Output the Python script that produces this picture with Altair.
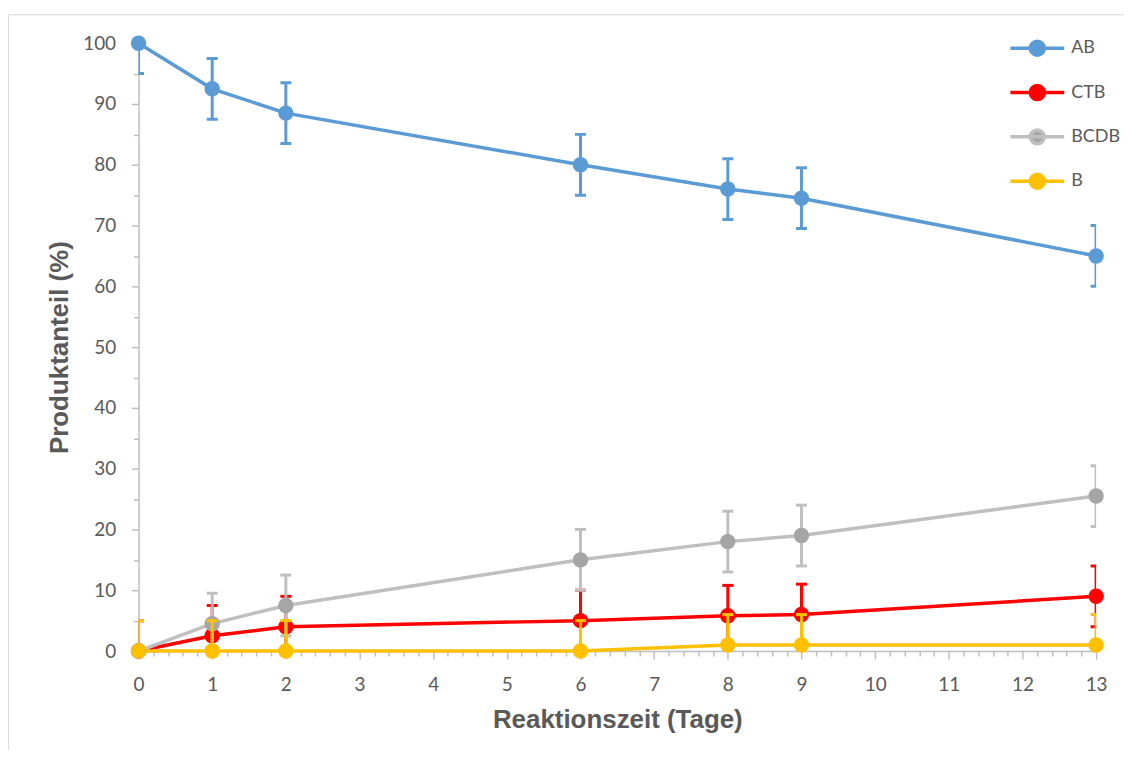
import altair as alt
import pandas as pd

# ---- data ----
days = [0, 1, 2, 6, 8, 9, 13]
series_names = ["AB", "CTB", "BCDB", "B"]
ab = [100, 92.5, 88.5, 80, 76, 74.5, 65]
ctb = [0, 2.5, 4, 5, 5.8, 6, 9]
bcdb = [0, 4.5, 7.5, 15, 18, 19, 25.5]
b = [0, 0, 0, 0, 1, 1, 1]
err_ab = [5, 5, 5, 5, 5, 5, 5]
err_ctb = [5, 5, 5, 5, 5, 5, 5]
err_bcdb = [5, 5, 5, 5, 5, 5, 5]
err_b = [5, 5, 5, 5, 5, 5, 5]

line_colors = ["#5B9BD5", "#FF0000", "#BFBFBF", "#FFC000"]
point_colors = ["#5B9BD5", "#FF0000", "#A5A5A5", "#FFC000"]

x_ticks = list(range(0, 14))
x_minor = [round(i + k * 0.2, 1) for i in range(0, 13) for k in range(1, 5)]
y_ticks = list(range(0, 101, 10))
y_minor = list(range(5, 100, 10))

values = [ab, ctb, bcdb, b]
errors = [err_ab, err_ctb, err_bcdb, err_b]
rows = []
for name, vals, errs in zip(series_names, values, errors):
    for d, v, e in zip(days, vals, errs):
        rows.append({"series": name, "day": d, "value": v, "lo": v - e, "hi": v + e})
df = pd.DataFrame(rows)

GRAY_TXT = "#595959"
AXIS_COL = "#BFBFBF"

xs = alt.Scale(domain=[0, 13], nice=False, zero=False)
ys = alt.Scale(domain=[0, 100], nice=False, zero=False)
stroke_scale = alt.Scale(domain=series_names, range=line_colors)
fill_scale = alt.Scale(domain=series_names, range=point_colors)

legend_path = "M-3.86,0L3.86,0M-1,0A1,1,0,1,0,1,0A1,1,0,1,0,-1,0Z"
leg = alt.Legend(
    title=None,
    orient="none",
    legendX=893,
    legendY=-4,
    symbolType=legend_path,
    symbolSize=196,
    symbolStrokeWidth=3.5,
    labelFont="Lato",
    labelFontSize=18,
    labelColor=GRAY_TXT,
    labelOffset=25,
    rowPadding=16.5,
    padding=0,
)

major_x = alt.Axis(
    values=x_ticks, orient="bottom", grid=False, tickSize=8, tickWidth=1.5,
    tickColor=AXIS_COL, domainColor=AXIS_COL, domainWidth=1.5,
    labelFont="Lato", labelFontSize=19, labelColor=GRAY_TXT, labelPadding=17,
    labelFlush=False, labelOverlap=False, format="d",
    title="Reaktionszeit (Tage)", titleFont="Liberation Sans", titleFontWeight="bold",
    titleFontSize=26, titleColor=GRAY_TXT, titleX=480.5, titleY=69,
    titleBaseline="middle", titleAlign="center",
)
major_y = alt.Axis(
    values=y_ticks, orient="left", grid=False, tickSize=7, tickWidth=1.5,
    tickColor=AXIS_COL, domainColor=AXIS_COL, domainWidth=1.5,
    labelFont="Lato", labelFontSize=19, labelColor=GRAY_TXT, labelPadding=16,
    labelFlush=False, labelOverlap=False, format="d",
    title="Produktanteil (%)", titleFont="Liberation Sans", titleFontWeight="bold",
    titleFontSize=26, titleColor=GRAY_TXT, titleX=-79, titleY=305,
    titleAngle=270, titleBaseline="middle", titleAlign="center",
)
minor_x = alt.Axis(
    values=x_minor, orient="bottom", grid=False, domain=False, labels=False,
    tickSize=5, tickWidth=1.5, tickColor=AXIS_COL, title=None,
)
minor_y = alt.Axis(
    values=y_minor, orient="left", grid=False, domain=False, labels=False,
    tickSize=5, tickWidth=1.5, tickColor=AXIS_COL, title=None,
)

base = alt.Chart(df)

axis_major = base.mark_point(opacity=0).encode(
    x=alt.X("day:Q", scale=xs, axis=major_x),
    y=alt.Y("value:Q", scale=ys, axis=major_y),
)
axis_minor = base.mark_point(opacity=0).encode(
    x=alt.X("day:Q", scale=xs, axis=minor_x),
    y=alt.Y("value:Q", scale=ys, axis=minor_y),
)

frame = alt.Chart(pd.DataFrame({"k": [0]})).mark_rect(
    fillOpacity=0, stroke="#D9D9D9", strokeWidth=1, clip=False
).encode(
    x=alt.value(-130.5), x2=alt.value(1500), y=alt.value(-28.5), y2=alt.value(1500)
)

layers = [frame, axis_major, axis_minor]
for name, lc in zip(series_names, line_colors):
    s = base.transform_filter(alt.datum.series == name)
    rule = s.mark_rule(strokeWidth=3, clip=True, color=lc).encode(
        x=alt.X("day:Q", scale=xs, axis=None),
        y=alt.Y("lo:Q", scale=ys, axis=None),
        y2="hi:Q",
    )
    cap_lo = s.mark_tick(orient="horizontal", size=11, thickness=3, clip=True, color=lc, opacity=1).encode(
        x=alt.X("day:Q", scale=xs, axis=None),
        y=alt.Y("lo:Q", scale=ys, axis=None),
    )
    cap_hi = s.mark_tick(orient="horizontal", size=11, thickness=3, clip=True, color=lc, opacity=1).encode(
        x=alt.X("day:Q", scale=xs, axis=None),
        y=alt.Y("hi:Q", scale=ys, axis=None),
    )
    line = s.mark_line(strokeWidth=3.5).encode(
        x=alt.X("day:Q", scale=xs, axis=None),
        y=alt.Y("value:Q", scale=ys, axis=None),
        stroke=alt.Stroke("series:N", scale=stroke_scale, legend=leg),
    )
    pts = s.mark_circle(size=240, opacity=1).encode(
        x=alt.X("day:Q", scale=xs, axis=None),
        y=alt.Y("value:Q", scale=ys, axis=None),
        fill=alt.Fill("series:N", scale=fill_scale, legend=leg),
    )
    layers += [rule, cap_lo, cap_hi, line, pts]

chart = alt.layer(*layers).resolve_axis(x="independent", y="independent").properties(
    width=961,
    height=610,
    autosize=alt.AutoSizeParams(type="none"),
    padding={"left": 131, "top": 34, "right": 28, "bottom": 98},
    background="white",
).configure_view(stroke=None)

chart.save("out.html", embed_options={"renderer": "svg", "actions": False})
